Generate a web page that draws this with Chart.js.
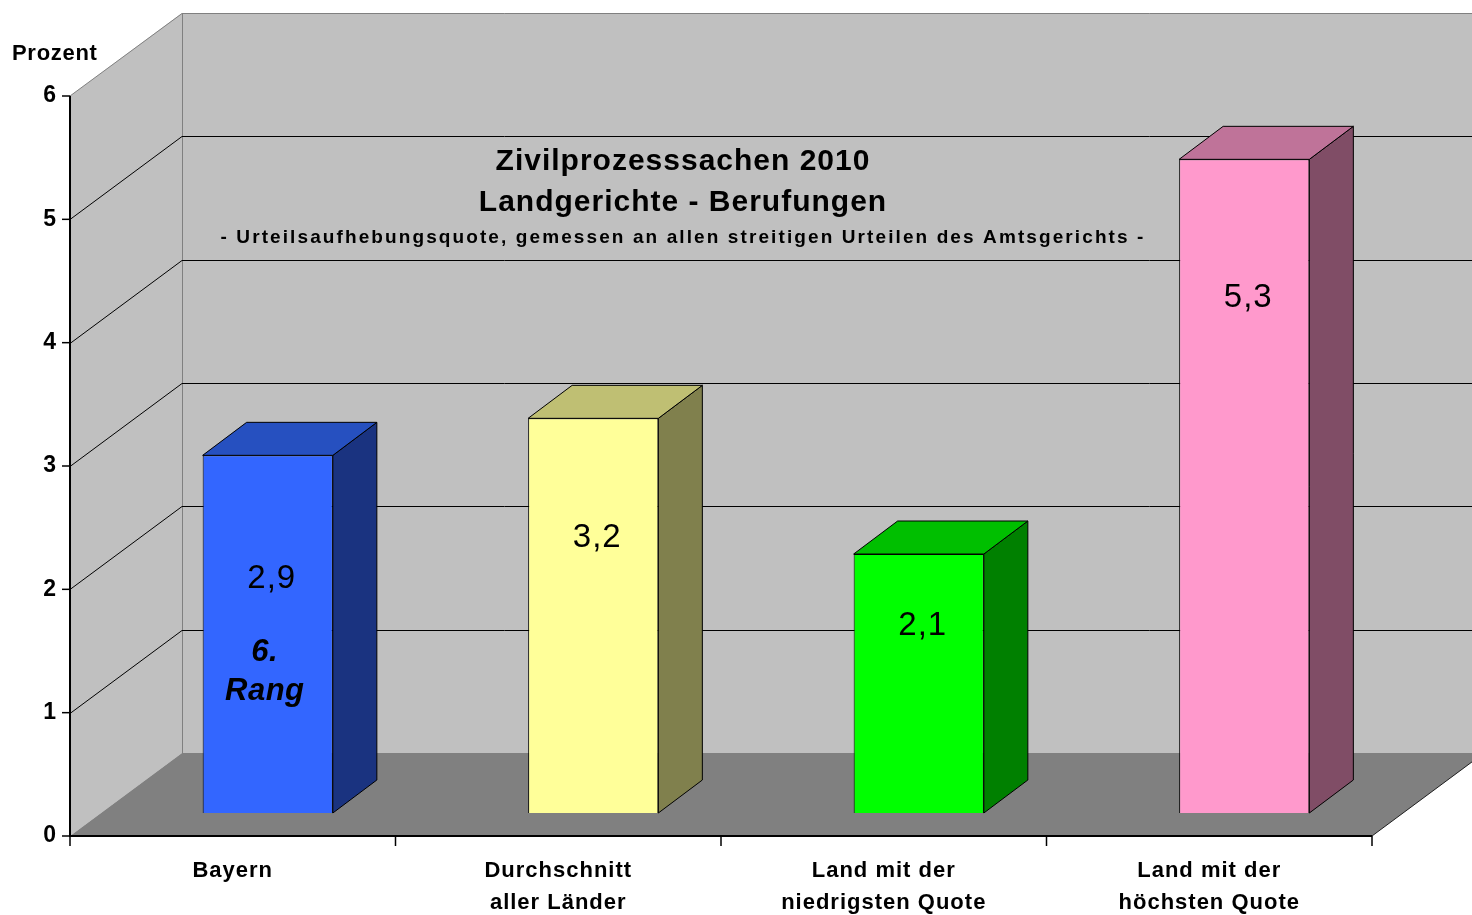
<!DOCTYPE html>
<html>
<head>
<meta charset="utf-8">
<script src="https://cdn.jsdelivr.net/npm/chart.js@4"></script>
<style>
  body { margin: 0; background: #fff; }
  #wrap { width: 1472px; height: 915px; }
</style>
</head>
<body>
<div id="wrap"><canvas id="barChart" width="1472" height="915"></canvas></div>
<script>
// data
const categories = [['Bayern'], ['Durchschnitt', 'aller Länder'], ['Land mit der', 'niedrigsten Quote'], ['Land mit der', 'höchsten Quote']];
const values = [2.9, 3.2, 2.1, 5.3];
const valueLabels = ['2,9', '3,2', '2,1', '5,3'];
const rankNote = ['6.', 'Rang'];
const yTicks = [0, 1, 2, 3, 4, 5, 6];
const titleLines = ['Zivilprozesssachen 2010', 'Landgerichte - Berufungen'];
const subtitle = '- Urteilsaufhebungsquote, gemessen an allen streitigen Urteilen des Amtsgerichts -';
const yAxisTitle = 'Prozent';

// colours (front / side / top of each bar)
const frontColors = ['#3366ff', '#ffff99', '#00ff00', '#ff99cc'];
const sideColors = ['#1a3380', '#80804d', '#008000', '#804d66'];
const topColors = ['#2650c0', '#bfbf73', '#00bf00', '#bf7399'];

// 3d look
const WALL_DX = 112, WALL_DY = -83;   // depth of the floor / back wall
const BAR_DX = 35, BAR_DY = -23;      // bar front plane
const DEPTH_DX = 44, DEPTH_DY = -33;  // bar depth
const labelLevels = [1.9, 2.23, 1.52, 4.18]; // where the value text sits inside the bars

const FONT = '"Liberation Sans", Arial, sans-serif';

function txt(ctx, s, x, y, font, spacing, align) {
  ctx.font = font;
  ctx.letterSpacing = (spacing || 0) + 'px';
  ctx.textAlign = align || 'center';
  ctx.textBaseline = 'middle';
  ctx.fillStyle = '#000';
  ctx.fillText(s, x, y);
  ctx.letterSpacing = '0px';
}

const threeD = {
  id: 'threeD',
  beforeDraw(chart) { // walls, floor, grid, axes
    const { ctx, chartArea: a, scales: { x, y } } = chart;
    const W = chart.width;
    const y0 = y.getPixelForValue(0), yTop = y.getPixelForValue(6);
    const bx = a.left + WALL_DX;
    ctx.save();
    // back wall
    ctx.fillStyle = '#c0c0c0';
    ctx.fillRect(bx, yTop + WALL_DY, W - bx, y0 - yTop);
    // left wall
    ctx.beginPath();
    ctx.moveTo(a.left, yTop);
    ctx.lineTo(bx, yTop + WALL_DY);
    ctx.lineTo(bx, y0 + WALL_DY);
    ctx.lineTo(a.left, y0);
    ctx.closePath();
    ctx.fill();
    // floor
    ctx.fillStyle = '#808080';
    ctx.beginPath();
    ctx.moveTo(a.left, y0);
    ctx.lineTo(bx, y0 + WALL_DY);
    ctx.lineTo(W, y0 + WALL_DY);
    ctx.lineTo(W, y0 + WALL_DY * (W - a.right) / WALL_DX);
    ctx.lineTo(a.right, y0);
    ctx.closePath();
    ctx.fill();
    // wall edges
    ctx.strokeStyle = '#808080';
    ctx.lineWidth = 1;
    ctx.beginPath();
    ctx.moveTo(a.left, yTop); ctx.lineTo(bx, yTop + WALL_DY + 0.5); ctx.lineTo(W, yTop + WALL_DY + 0.5);
    ctx.moveTo(bx + 0.5, yTop + WALL_DY); ctx.lineTo(bx + 0.5, y0 + WALL_DY);
    ctx.stroke();
    // grid lines
    ctx.strokeStyle = '#000';
    yTicks.forEach(v => {
      if (v === 0 || v === 6) return;
      const py = Math.round(y.getPixelForValue(v)) + 0.5;
      ctx.beginPath();
      ctx.moveTo(a.left, py);
      ctx.lineTo(bx, py + WALL_DY);
      ctx.lineTo(W, py + WALL_DY);
      ctx.stroke();
    });
    ctx.strokeStyle = '#202020';
    ctx.beginPath();
    ctx.moveTo(W, y0 + WALL_DY * (W - a.right) / WALL_DX);
    ctx.lineTo(a.right, y0);
    ctx.stroke();
    // axes
    ctx.strokeStyle = '#000';
    ctx.lineWidth = 2;
    ctx.beginPath();
    ctx.moveTo(a.left, yTop); ctx.lineTo(a.left, y0); ctx.lineTo(a.right, y0);
    ctx.stroke();
    ctx.lineWidth = 1.5;
    yTicks.forEach(v => {
      const py = y.getPixelForValue(v);
      ctx.beginPath(); ctx.moveTo(a.left - 8, py); ctx.lineTo(a.left, py); ctx.stroke();
      txt(ctx, String(v), a.left - 14, py, 'bold 23px ' + FONT, 0, 'right');
    });
    for (let i = 0; i <= categories.length; i++) {
      const px = a.left + (a.right - a.left) * i / categories.length;
      ctx.beginPath(); ctx.moveTo(px, y0); ctx.lineTo(px, y0 + 10); ctx.stroke();
    }
    categories.forEach((lines, i) => {
      const cx = x.getPixelForValue(i);
      lines.forEach((s, j) => txt(ctx, s, cx, y0 + 35 + j * 32, 'bold 22px ' + FONT, 1));
    });
    txt(ctx, yAxisTitle, 12, 54, 'bold 22px ' + FONT, 0.7, 'left');
    // titles
    const tx = 683;
    txt(ctx, titleLines[0], tx, 162, 'bold 30px ' + FONT, 1);
    txt(ctx, titleLines[1], tx, 203, 'bold 30px ' + FONT, 1);
    txt(ctx, subtitle, tx, 238, 'bold 19px ' + FONT, 2.1);
    ctx.restore();
  },
  beforeDatasetsDraw(chart) { // bar sides and tops, then shift the front faces
    const { ctx } = chart;
    ctx.save();
    ctx.translate(BAR_DX, BAR_DY);
    chart.getDatasetMeta(0).data.forEach((bar, i) => {
      const l = bar.x - bar.width / 2, r = bar.x + bar.width / 2;
      const t = bar.y, b = bar.base;
      ctx.strokeStyle = '#000';
      ctx.lineWidth = 1;
      ctx.fillStyle = sideColors[i];
      ctx.beginPath();
      ctx.moveTo(r, b); ctx.lineTo(r + DEPTH_DX, b + DEPTH_DY);
      ctx.lineTo(r + DEPTH_DX, t + DEPTH_DY); ctx.lineTo(r, t);
      ctx.closePath(); ctx.fill(); ctx.stroke();
      ctx.fillStyle = topColors[i];
      ctx.beginPath();
      ctx.moveTo(l, t); ctx.lineTo(l + DEPTH_DX, t + DEPTH_DY);
      ctx.lineTo(r + DEPTH_DX, t + DEPTH_DY); ctx.lineTo(r, t);
      ctx.closePath(); ctx.fill(); ctx.stroke();
    });
  },
  afterDatasetsDraw(chart) {
    const { ctx, scales: { x, y } } = chart;
    values.forEach((v, i) => {
      const cx = x.getPixelForValue(i) + 4;
      txt(ctx, valueLabels[i], cx, y.getPixelForValue(labelLevels[i]), '33px ' + FONT, 1);
    });
    // rank note in the Bayern bar
    const cx = x.getPixelForValue(0) - 3;
    txt(ctx, rankNote[0], cx, y.getPixelForValue(labelLevels[0]) + 74, 'italic bold 31px ' + FONT, 0.5);
    txt(ctx, rankNote[1], cx, y.getPixelForValue(labelLevels[0]) + 113, 'italic bold 31px ' + FONT, 0.5);
    ctx.restore();
  }
};

new Chart(document.getElementById('barChart'), {
  type: 'bar',
  data: {
    labels: categories,
    datasets: [{
      data: values,
      backgroundColor: frontColors,
      borderColor: '#000',
      borderWidth: 1,
      barPercentage: 0.4,
      categoryPercentage: 1,
      clip: false
    }]
  },
  options: {
    responsive: false,
    animation: false,
    devicePixelRatio: 1,
    layout: { padding: { left: 70, right: 100, top: 96, bottom: 79 } },
    plugins: { legend: { display: false }, tooltip: { enabled: false } },
    scales: {
      x: { display: false },
      y: { display: false, min: 0, max: 6 }
    }
  },
  plugins: [threeD]
});
</script>
</body>
</html>
